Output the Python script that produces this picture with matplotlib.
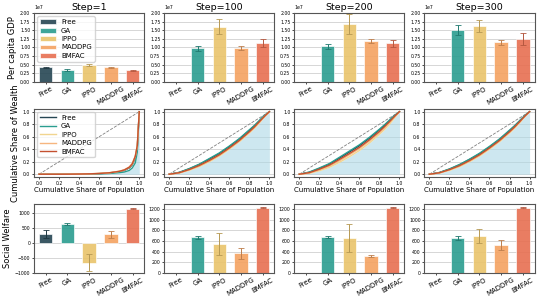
import numpy as np
import matplotlib
matplotlib.use('Agg')
import matplotlib.pyplot as plt
from matplotlib.ticker import MultipleLocator
from matplotlib.colors import to_rgb

methods = ['Free', 'GA', 'IPPO', 'MADDPG', 'BMFAC']
steps = ['Step=1', 'Step=100', 'Step=200', 'Step=300']
bar_colors = ['#264653', '#2a9d8f', '#e9c46a', '#f4a261', '#e76f51']
line_colors = ['#264653', '#2a9d8f', '#f1d58f', '#f6b67f', '#c4502f']

# per capita GDP (x1e7), mean and std
gdp_mean = [[0.42e7, 0.34e7, 0.48e7, 0.42e7, 0.33e7],
            [0.0, 0.97e7, 1.60e7, 0.98e7, 1.13e7],
            [0.0, 1.03e7, 1.68e7, 1.18e7, 1.12e7],
            [0.0, 1.50e7, 1.62e7, 1.15e7, 1.24e7]]
gdp_std = [[0.02e7, 0.015e7, 0.03e7, 0.02e7, 0.01e7],
           [0.0, 0.08e7, 0.22e7, 0.07e7, 0.11e7],
           [0.0, 0.08e7, 0.28e7, 0.05e7, 0.10e7],
           [0.0, 0.14e7, 0.18e7, 0.07e7, 0.17e7]]

# social welfare, mean and std
sw_mean = [[300, 650, -650, 300, 1160],
           [0, 670, 545, 370, 1220],
           [0, 680, 655, 320, 1225],
           [0, 660, 690, 530, 1225]]
sw_std = [[130, 30, 280, 110, 10],
          [0, 25, 205, 100, 10],
          [0, 15, 255, 25, 10],
          [0, 35, 130, 95, 10]]

# Lorenz curves: cumulative share of wealth vs population
pop = [0, .1, .2, .3, .4, .5, .6, .7, .8, .85, .9, .93, .96, .98, 1.0]
lorenz = [
    [[0, 0, 0, 0, .002, .005, .01, .02, .04, .06, .10, .15, .26, .42, 1.0],
     [0, 0, 0, 0, .001, .003, .006, .012, .025, .035, .06, .10, .18, .35, 1.0],
     [0, 0, 0, .001, .003, .006, .012, .022, .045, .065, .11, .16, .28, .45, 1.0],
     [0, 0, 0, .001, .003, .007, .013, .024, .048, .07, .115, .17, .29, .46, 1.0],
     [0, 0, 0, .001, .003, .006, .012, .023, .046, .068, .112, .165, .285, .455, 1.0]],
    [[0, .028, .085, .155, .24, .33, .44, .56, .70, .77, .85, .90, .945, .975, 1.0],
     [0, .03, .09, .16, .25, .34, .45, .57, .71, .78, .86, .91, .95, .98, 1.0],
     [0, .018, .064, .122, .20, .29, .40, .52, .66, .735, .82, .878, .93, .965, 1.0],
     [0, .021, .07, .13, .21, .30, .41, .53, .67, .745, .83, .885, .935, .968, 1.0],
     [0, .024, .075, .14, .22, .31, .42, .54, .68, .755, .84, .89, .94, .97, 1.0]],
    [[0, .03, .09, .16, .255, .355, .455, .575, .71, .78, .855, .905, .945, .975, 1.0],
     [0, .035, .10, .17, .27, .37, .47, .59, .72, .79, .865, .91, .95, .98, 1.0],
     [0, .015, .055, .11, .19, .28, .38, .50, .64, .715, .80, .86, .92, .96, 1.0],
     [0, .02, .07, .13, .215, .31, .41, .53, .665, .74, .825, .88, .93, .965, 1.0],
     [0, .025, .08, .145, .235, .33, .43, .55, .685, .76, .84, .89, .94, .97, 1.0]],
    [[0, .026, .08, .15, .235, .325, .435, .555, .695, .77, .85, .90, .945, .975, 1.0],
     [0, .028, .085, .155, .24, .335, .445, .565, .705, .775, .855, .905, .95, .978, 1.0],
     [0, .018, .062, .12, .20, .29, .40, .52, .66, .735, .82, .878, .93, .965, 1.0],
     [0, .02, .068, .128, .208, .30, .41, .53, .67, .745, .83, .885, .935, .968, 1.0],
     [0, .023, .073, .137, .218, .31, .42, .54, .68, .755, .838, .89, .94, .97, 1.0]],
]


def darker(c, f=0.78):
    r, g, b = to_rgb(c)
    return (r * f, g * f, b * f)


def style(ax):
    for sp in ax.spines.values():
        sp.set_color('#555555')
        sp.set_linewidth(0.8)
    ax.tick_params(labelsize=3.3, length=1.5, width=0.5, pad=1.2)
    ax.grid(axis='y', color='#d0d0d0', linewidth=0.6)
    ax.set_axisbelow(True)


fig, axes = plt.subplots(3, 4, figsize=(5.4, 3), dpi=100)
fig.subplots_adjust(left=0.063, right=0.99, top=0.957, bottom=0.09,
                    hspace=0.39, wspace=0.18)

x = np.arange(len(methods))
for j in range(4):
    # GDP
    ax = axes[0, j]
    style(ax)
    for i in range(5):
        ax.bar(x[i], gdp_mean[j][i], width=0.62, color=bar_colors[i], alpha=0.9,
               edgecolor='white', linewidth=0.5, label=methods[i])
        if gdp_std[j][i] > 0:
            ax.errorbar(x[i], gdp_mean[j][i], yerr=gdp_std[j][i], fmt='none',
                        ecolor=darker(bar_colors[i]), elinewidth=0.7, capsize=2,
                        capthick=0.6)
    ax.set_ylim(0, 2.0e7)
    ax.yaxis.set_major_locator(MultipleLocator(0.25e7))
    ax.yaxis.get_offset_text().set_fontsize(3.3)
    ax.set_xticks(x)
    ax.set_xticklabels(methods, rotation=30, fontsize=5)
    ax.set_title(steps[j], fontsize=6.8, pad=2)
    if j == 0:
        ax.set_ylabel('Per capita GDP', fontsize=6, labelpad=2)
        ax.legend(loc='upper left', fontsize=5, handlelength=2.2,
                  borderpad=0.4, labelspacing=0.35)

    # Lorenz
    ax = axes[1, j]
    style(ax)
    curves = np.array(lorenz[j])
    ax.fill_between(pop, 0, curves.min(axis=0), color='lightblue', alpha=0.6,
                    linewidth=0)
    ax.plot([0, 1], [0, 1], '--', color='grey', linewidth=0.6)
    for i in range(5):
        ax.plot(pop, curves[i], color=line_colors[i], linewidth=1.0,
                label=methods[i])
    ax.set_xticks(np.arange(0, 1.01, 0.2))
    ax.set_yticks(np.arange(0, 1.01, 0.2))
    ax.set_xlabel('Cumulative Share of Population', fontsize=5, labelpad=1)
    if j == 0:
        ax.set_ylabel('Cumulative Share of Wealth', fontsize=6, labelpad=2)
        handles = ax.get_lines()[1:]
        ax.legend(handles, methods, loc='upper left', fontsize=5,
                  handlelength=2.2, borderpad=0.4, labelspacing=0.35)

    # Social welfare
    ax = axes[2, j]
    style(ax)
    for i in range(5):
        ax.bar(x[i], sw_mean[j][i], width=0.62, color=bar_colors[i], alpha=0.9,
               edgecolor='white', linewidth=0.5)
        if sw_std[j][i] > 0:
            ax.errorbar(x[i], sw_mean[j][i], yerr=sw_std[j][i], fmt='none',
                        ecolor=darker(bar_colors[i]), elinewidth=0.7, capsize=2,
                        capthick=0.6)
    if j == 0:
        ax.set_ylim(-1000, 1310)
        ax.yaxis.set_major_locator(MultipleLocator(500))
        ax.set_ylabel('Social Welfare', fontsize=6, labelpad=2)
    else:
        ax.set_ylim(0, 1290)
        ax.yaxis.set_major_locator(MultipleLocator(200))
    ax.set_xticks(x)
    ax.set_xticklabels(methods, rotation=30, fontsize=5)

fig.savefig('out.png', dpi=100)
